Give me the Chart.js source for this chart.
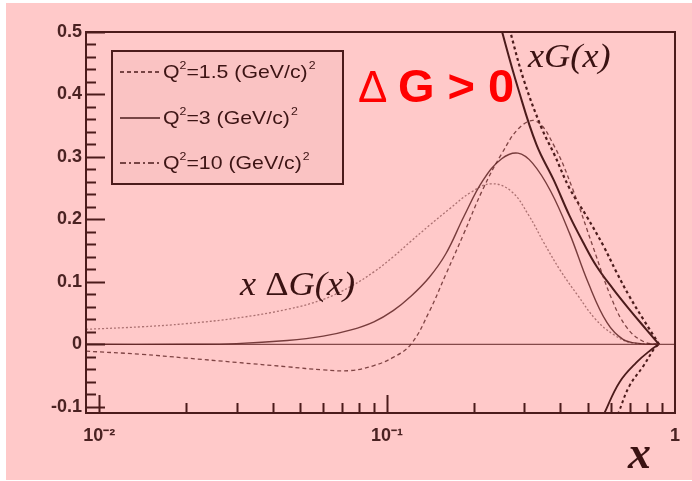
<!DOCTYPE html>
<html>
<head>
<meta charset="utf-8">
<script src="https://cdn.jsdelivr.net/npm/chart.js@4.4.1/dist/chart.umd.min.js"></script>
<style>
  html, body { margin: 0; padding: 0; background: #ffffff; }
  #wrap { width: 692px; height: 481px; }
</style>
</head>
<body>
<div id="wrap"><canvas id="gluonChart" width="692" height="481"></canvas></div>
<script>
// x Delta G(x), Q^2 = 1.5 (dashed)
const xDg15 = [0.009, 0.014, 0.02, 0.03, 0.045, 0.06, 0.075, 0.09, 0.105, 0.121, 0.14, 0.16, 0.185, 0.215, 0.25, 0.29, 0.33, 0.38, 0.44, 0.52, 0.6, 0.68, 0.78, 0.88];
const yDg15 = [-0.011, -0.016, -0.022, -0.029, -0.036, -0.041, -0.042, -0.034, -0.021, 0.0, 0.052, 0.112, 0.178, 0.248, 0.305, 0.348, 0.357, 0.318, 0.25, 0.155, 0.075, 0.027, 0.004, 0];

// x Delta G(x), Q^2 = 3 (solid)
const xDg3 = [0.009, 0.02, 0.03, 0.045, 0.06, 0.075, 0.09, 0.105, 0.121, 0.14, 0.16, 0.185, 0.215, 0.25, 0.285, 0.32, 0.37, 0.43, 0.5, 0.58, 0.66, 0.76, 0.88];
const yDg3 = [0, 0, 0.001, 0.006, 0.013, 0.023, 0.036, 0.054, 0.077, 0.107, 0.145, 0.205, 0.262, 0.297, 0.306, 0.29, 0.245, 0.178, 0.098, 0.035, 0.008, 0.001, 0];

// x Delta G(x), Q^2 = 10 (dotted)
const xDg10 = [0.009, 0.014, 0.02, 0.03, 0.045, 0.06, 0.075, 0.09, 0.105, 0.121, 0.14, 0.165, 0.195, 0.23, 0.27, 0.31, 0.35, 0.4, 0.46, 0.53, 0.61, 0.7, 0.88];
const yDg10 = [0.024, 0.028, 0.033, 0.042, 0.056, 0.072, 0.093, 0.116, 0.14, 0.165, 0.19, 0.217, 0.243, 0.257, 0.245, 0.207, 0.163, 0.118, 0.078, 0.04, 0.016, 0.003, 0];

// x G(x), solid and dashed
const xG3 = [0.229, 0.251, 0.285, 0.33, 0.38, 0.43, 0.48, 0.534, 0.611, 0.694, 0.794, 0.88];
const yG3 = [0.57, 0.5, 0.41, 0.32, 0.262, 0.206, 0.163, 0.125, 0.088, 0.056, 0.024, 0];
const xG15 = [0.245, 0.268, 0.3, 0.345, 0.38, 0.43, 0.493, 0.565, 0.627, 0.694, 0.776, 0.88];
const yG15 = [0.57, 0.5, 0.42, 0.345, 0.305, 0.25, 0.205, 0.157, 0.115, 0.077, 0.04, 0];

// branches below zero near x = 1
const xNeg3 = [0.545, 0.569, 0.641, 0.735, 0.83, 0.88];
const yNeg3 = [-0.13, -0.11, -0.061, -0.029, -0.008, 0];
const xNeg15 = [0.61, 0.636, 0.694, 0.776, 0.85, 0.88];
const yNeg15 = [-0.13, -0.11, -0.067, -0.035, -0.006, 0];

const xTickValues = [0.01, 0.1, 1];
const xTickLabels = ['10\u207B\u00B2', '10\u207B\u00B9', '1'];
const legendLabels = ['1.5', '3', '10'];

const pink = '#ffc9c9';
const frameColor = '#4b1b1b';

const pts = (xs, ys) => xs.map((v, i) => ({ x: v, y: ys[i] }));

function curve(xs, ys, color, width, dash) {
    return {
        data: pts(xs, ys),
        borderColor: color,
        borderWidth: width,
        borderDash: dash,
        pointRadius: 0,
        tension: 0.4,
        fill: false,
        clip: 0
    };
}

const lineStyles = [
    { color: 'rgba(95, 35, 35, 0.8)', width: 1.3, dash: [4, 3] },
    { color: 'rgba(95, 35, 35, 0.85)', width: 1.4, dash: [] },
    { color: 'rgba(115, 55, 55, 0.6)', width: 1.3, dash: [2, 2] }
];

function stretchText(ctx, text, x, y, sx) {
    ctx.save();
    ctx.translate(x, y);
    ctx.scale(sx, 1);
    ctx.fillText(text, 0, 0);
    ctx.restore();
    return ctx.measureText(text).width * sx;
}

const pinkBackground = {
    id: 'pinkBackground',
    beforeDraw(chart) {
        const ctx = chart.ctx;
        ctx.save();
        ctx.fillStyle = pink;
        ctx.fillRect(6, 3, 686, 477);
        ctx.restore();
    },
    beforeDatasetsDraw(chart) {
        const { ctx, chartArea: a, scales: { y } } = chart;
        const py = y.getPixelForValue(0);
        ctx.save();
        ctx.strokeStyle = 'rgba(110, 50, 50, 0.85)';
        ctx.lineWidth = 1.2;
        ctx.beginPath();
        ctx.moveTo(a.left, py);
        ctx.lineTo(a.right, py);
        ctx.stroke();
        ctx.restore();
    }
};

const frameAndTicks = {
    id: 'frameAndTicks',
    afterDatasetsDraw(chart) {
        const { ctx, chartArea: a, scales: { x, y } } = chart;
        ctx.save();
        ctx.strokeStyle = frameColor;
        ctx.lineWidth = 2;
        ctx.strokeRect(a.left, a.top, a.right - a.left, a.bottom - a.top);

        // y ticks, pointing inwards
        for (let i = -5; i <= 25; i++) {
            const v = i * 0.02;
            const py = Math.round(y.getPixelForValue(v)) + 0.5;
            const len = i % 5 === 0 ? 19 : 10;
            ctx.beginPath();
            ctx.moveTo(a.left, py);
            ctx.lineTo(a.left + len, py);
            ctx.stroke();
        }
        // x ticks, log decades
        [0.01, 0.1].forEach(d => {
            for (let m = 1; m <= 9; m++) {
                const px = Math.round(x.getPixelForValue(m * d)) + 0.5;
                const len = m === 1 ? 18 : 10;
                ctx.beginPath();
                ctx.moveTo(px, a.bottom);
                ctx.lineTo(px, a.bottom - len);
                ctx.stroke();
            }
        });
        ctx.restore();
    },
    afterDraw(chart) {
        const ctx = chart.ctx;
        ctx.save();
        // legend box
        ctx.fillStyle = '#fac3c3';
        ctx.fillRect(112, 51, 231, 133);
        ctx.strokeStyle = frameColor;
        ctx.lineWidth = 2;
        ctx.strokeRect(112, 51, 231, 133);
        const rows = [72, 118, 163];
        const legendDash = [[4, 3], [], [6, 3, 2, 3]];
        legendLabels.forEach((lab, i) => {
            ctx.strokeStyle = frameColor;
            ctx.lineWidth = 1.5;
            ctx.setLineDash(legendDash[i]);
            ctx.beginPath();
            ctx.moveTo(120, rows[i]);
            ctx.lineTo(160, rows[i]);
            ctx.stroke();
            ctx.setLineDash([]);
            ctx.fillStyle = '#3c1414';
            ctx.textBaseline = 'middle';
            let cx = 163;
            const by = rows[i] + 1;
            ctx.font = '19px "Liberation Sans", Arial, sans-serif';
            cx += stretchText(ctx, 'Q', cx, by, 1.12);
            ctx.font = '11px "Liberation Sans", Arial, sans-serif';
            cx += stretchText(ctx, '2', cx, by - 7, 1.12);
            ctx.font = '19px "Liberation Sans", Arial, sans-serif';
            cx += stretchText(ctx, '=' + lab + ' (GeV/c)', cx, by, 1.12);
            ctx.font = '11px "Liberation Sans", Arial, sans-serif';
            stretchText(ctx, '2', cx + 1, by - 7, 1.12);
        });

        // annotations
        ctx.textBaseline = 'alphabetic';
        ctx.fillStyle = '#ff0000';
        ctx.font = '44px "Liberation Sans", Arial, sans-serif';
        ctx.fillText('\u0394', 358, 102);
        ctx.font = 'bold 47px "Liberation Sans", Arial, sans-serif';
        ctx.fillText('G > 0', 398, 102);

        ctx.fillStyle = '#3a1212';
        ctx.font = 'italic 33px "Liberation Serif", "Times New Roman", serif';
        stretchText(ctx, 'xG(x)', 528, 67, 1.1);

        let tx = 240;
        tx += stretchText(ctx, 'x ', tx, 295, 1.1);
        ctx.font = '33px "Liberation Serif", "Times New Roman", serif';
        tx += stretchText(ctx, '\u0394', tx, 295, 1.1);
        ctx.font = 'italic 33px "Liberation Serif", "Times New Roman", serif';
        stretchText(ctx, 'G(x)', tx, 295, 1.1);

        ctx.font = 'bold italic 46px "Liberation Serif", "Times New Roman", serif';
        ctx.fillText('x', 628, 468);
        ctx.restore();
    }
};

const tickFont = { family: '"Liberation Sans", Arial, sans-serif', size: 18, weight: 'bold' };
const tickColor = '#4a2222';

new Chart(document.getElementById('gluonChart'), {
    type: 'line',
    data: {
        datasets: [
            curve(xDg15, yDg15, lineStyles[0].color, lineStyles[0].width, lineStyles[0].dash),
            curve(xDg3, yDg3, lineStyles[1].color, lineStyles[1].width, lineStyles[1].dash),
            curve(xDg10, yDg10, lineStyles[2].color, lineStyles[2].width, lineStyles[2].dash),
            curve(xG3, yG3, frameColor, 2, []),
            curve(xG15, yG15, frameColor, 2.2, [3, 3]),
            curve(xNeg3, yNeg3, frameColor, 1.8, []),
            curve(xNeg15, yNeg15, frameColor, 2, [3, 3])
        ]
    },
    options: {
        responsive: false,
        animation: false,
        devicePixelRatio: 1,
        layout: { padding: { top: 32, right: 14, left: 0, bottom: 0 } },
        plugins: {
            legend: { display: false },
            tooltip: { enabled: false }
        },
        scales: {
            x: {
                type: 'logarithmic',
                min: 0.009,
                max: 1,
                grid: { display: false, drawTicks: false },
                border: { display: false },
                afterBuildTicks: (scale) => {
                    scale.ticks = xTickValues.map(v => ({ value: v }));
                },
                afterFit: (scale) => { scale.height = 68; },
                ticks: {
                    autoSkip: false,
                    maxRotation: 0,
                    padding: 12,
                    font: tickFont,
                    color: tickColor,
                    callback: (value, index) => xTickLabels[index]
                }
            },
            y: {
                type: 'linear',
                min: -0.11,
                max: 0.5,
                grid: { display: false, drawTicks: false },
                border: { display: false },
                afterFit: (scale) => { scale.width = 86; },
                ticks: {
                    stepSize: 0.1,
                    includeBounds: false,
                    padding: 4,
                    font: tickFont,
                    color: tickColor,
                    callback: (value) => (value === 0 ? '0' : String(value))
                }
            }
        }
    },
    plugins: [pinkBackground, frameAndTicks]
});
</script>
</body>
</html>
